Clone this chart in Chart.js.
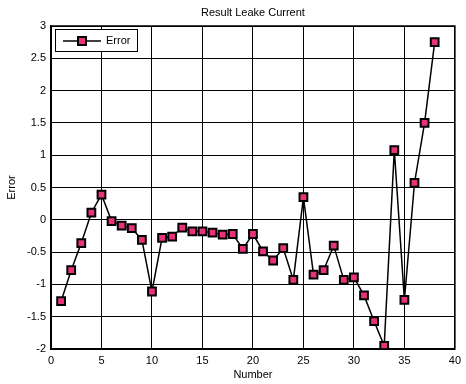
<!DOCTYPE html>
<html>
<head>
<meta charset="utf-8">
<script src="https://cdn.jsdelivr.net/npm/chart.js@4"></script>
<style>
  html, body { margin: 0; padding: 0; background: #fff; }
  #wrap { width: 466px; height: 384px; }
</style>
</head>
<body>
<div id="wrap"><canvas id="leak_chart"></canvas></div>
<script>
const numbers = [1, 2, 3, 4, 5, 6, 7, 8, 9, 10, 11, 12, 13, 14, 15, 16, 17, 18, 19,
  20, 21, 22, 23, 24, 25, 26, 27, 28, 29, 30, 31, 32, 33, 34, 35, 36, 37, 38];
const errors = [-1.26, -0.78, -0.36, 0.11, 0.39, -0.02, -0.09, -0.13, -0.31, -1.11,
  -0.28, -0.26, -0.12, -0.18, -0.18, -0.2, -0.23, -0.22, -0.45, -0.22,
  -0.49, -0.63, -0.44, -0.93, 0.35, -0.85, -0.78, -0.4, -0.93, -0.89,
  -1.17, -1.57, -1.95, 1.08, -1.24, 0.57, 1.5, 2.75];
const chartTitle = "Result Leake Current";
const seriesName = "Error";

const FONT = "'Liberation Sans', Arial, sans-serif";
const markerColor = "#e8337a";

// title, box and legend drawn inside the plot like matlab does
const matlabBits = {
  id: "matlabBits",
  afterDraw(chart) {
    const ctx = chart.ctx;
    const a = chart.chartArea;
    ctx.save();
    ctx.strokeStyle = "#000";
    ctx.lineWidth = 1.5;
    ctx.strokeRect(a.left, a.top, a.right - a.left, a.bottom - a.top);

    ctx.fillStyle = "#000";
    ctx.font = "11px " + FONT;
    ctx.textAlign = "center";
    ctx.textBaseline = "middle";
    ctx.fillText(chartTitle, (a.left + a.right) / 2, 13);

    // legend
    const lx = a.left + 4, ly = a.top + 3;
    ctx.fillStyle = "#fff";
    ctx.fillRect(lx, ly, 82, 22);
    ctx.lineWidth = 1;
    ctx.strokeRect(lx + 0.5, ly + 0.5, 82, 22);
    ctx.beginPath();
    ctx.moveTo(lx + 8, ly + 12);
    ctx.lineTo(lx + 46, ly + 12);
    ctx.lineWidth = 1.5;
    ctx.stroke();
    ctx.fillStyle = markerColor;
    ctx.fillRect(lx + 23, ly + 8, 8, 8);
    ctx.lineWidth = 2;
    ctx.strokeRect(lx + 23, ly + 8, 8, 8);
    ctx.fillStyle = "#000";
    ctx.textAlign = "left";
    ctx.fillText(seriesName, lx + 51, ly + 12);
    ctx.restore();
  },
};

const ctx = document.getElementById("leak_chart").getContext("2d");
new Chart(ctx, {
  type: "line",
  data: {
    datasets: [
      {
        label: seriesName,
        data: numbers.map((n, i) => ({ x: n, y: errors[i] })),
        borderColor: "#000",
        borderWidth: 1.5,
        backgroundColor: markerColor,
        pointStyle: "rect",
        pointRadius: 5.5,
        pointBorderWidth: 2,
        pointBorderColor: "#000",
        pointBackgroundColor: markerColor,
        tension: 0,
      },
    ],
  },
  options: {
    responsive: true,
    maintainAspectRatio: false,
    animation: false,
    layout: { padding: { top: 26, right: 6, left: 0, bottom: 0 } },
    plugins: {
      legend: { display: false },
      title: { display: false },
      tooltip: { enabled: false },
    },
    scales: {
      x: {
        type: "linear",
        min: 0,
        max: 40,
        afterFit: (scale) => { scale.height = 35; },
        ticks: { stepSize: 5, color: "#000", padding: 5, font: { family: FONT, size: 11 } },
        grid: { color: "#000", lineWidth: 1, drawTicks: false },
        border: { color: "#000", width: 1.5 },
        title: { display: true, text: "Number", color: "#000", padding: { top: 0, bottom: 2 }, font: { family: FONT, size: 11 } },
      },
      y: {
        min: -2,
        max: 3,
        afterFit: (scale) => { scale.width = 51; },
        ticks: {
          stepSize: 0.5,
          color: "#000",
          padding: 5,
          font: { family: FONT, size: 11 },
          callback: (v) => String(Math.round(v * 10) / 10),
        },
        grid: { color: "#000", lineWidth: 1, drawTicks: false },
        border: { color: "#000", width: 1.5 },
        title: { display: true, text: "Error", color: "#000", padding: { top: 5, bottom: 0 }, font: { family: FONT, size: 11 } },
      },
    },
  },
  plugins: [matlabBits],
});
</script>
</body>
</html>
